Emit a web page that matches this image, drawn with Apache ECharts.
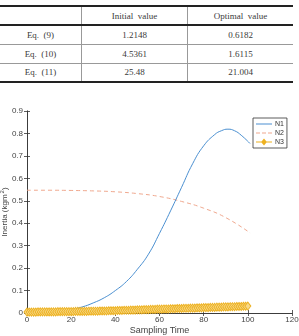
<!DOCTYPE html>
<html><head><meta charset="utf-8">
<script src="https://cdn.jsdelivr.net/npm/echarts@6/dist/echarts.min.js"></script>
<style>
html,body{margin:0;padding:0;background:#fff;}
#wrap{position:relative;width:299px;height:336px;}
#chart{position:absolute;left:0;top:0;width:299px;height:336px;}
#tbl{position:absolute;left:0;top:5px;width:293px;border-collapse:collapse;font-family:"Liberation Serif",serif;font-size:9px;color:#3a3a3a;z-index:2;background:#fff;}
#tbl td,#tbl th{text-align:center;font-weight:normal;padding:0;}
#tbl tr{height:19px;}
#tbl thead tr{border-top:2px solid #222;border-bottom:2px solid #222;}
#tbl tbody tr{border-bottom:1px solid #999;}
#tbl tbody tr:last-child{border-bottom:2px solid #222;}
#tbl td+td,#tbl th+th{border-left:1px solid #999;}
</style>
</head><body>
<div id="wrap">
<div id="chart"></div>
<table id="tbl">
<thead><tr><th style="width:81px"></th><th style="width:105px">Initial&nbsp; value</th><th>Optimal&nbsp; value</th></tr></thead>
<tbody id="tb"></tbody>
</table>
</div>
<script>
// Table data
const tableRows = ["Eq.  (9)", "Eq.  (10)", "Eq.  (11)"];
const initialValues = ["1.2148", "4.5361", "25.48"];
const optimalValues = ["0.6182", "1.6115", "21.004"];

// Chart data
const xTicks = [0, 20, 40, 60, 80, 100, 120];
const yTicks = [0, 0.1, 0.2, 0.3, 0.4, 0.5, 0.6, 0.7, 0.8, 0.9];
const n1Time = [0, 5, 10, 15, 20, 25, 30, 35, 40, 45, 50, 55, 60, 65, 70, 75, 80, 85, 88, 91, 94, 97, 101];
const n1Values = [0.003, 0.004, 0.006, 0.010, 0.016, 0.027, 0.045, 0.068, 0.100, 0.140, 0.195, 0.262, 0.355, 0.455, 0.560, 0.665, 0.745, 0.795, 0.812, 0.819, 0.812, 0.792, 0.755];
const n2Time = [0, 10, 20, 30, 40, 50, 60, 70, 80, 90, 101];
const n2Values = [0.547, 0.547, 0.546, 0.544, 0.540, 0.532, 0.519, 0.497, 0.467, 0.425, 0.357];
const n3Values = [
0.004,0.004,0.004,0.004,0.004,0.005,0.005,0.005,0.005,0.005,0.005,
0.005,0.005,0.005,0.006,0.006,0.006,0.006,0.006,0.006,0.006,
0.006,0.007,0.007,0.007,0.007,0.007,0.007,0.008,0.008,0.008,
0.008,0.008,0.009,0.009,0.009,0.009,0.010,0.010,0.010,0.010,
0.011,0.011,0.011,0.012,0.012,0.012,0.013,0.013,0.013,0.014,
0.014,0.014,0.015,0.015,0.015,0.016,0.016,0.016,0.017,0.017,
0.017,0.018,0.018,0.018,0.019,0.019,0.019,0.020,0.020,0.020,
0.021,0.021,0.021,0.022,0.022,0.022,0.023,0.023,0.023,0.024,
0.024,0.024,0.025,0.025,0.025,0.026,0.026,0.026,0.027,0.027,
0.027,0.028,0.028,0.028,0.029,0.029,0.029,0.030,0.030,0.031];

const tb = document.getElementById('tb');
tableRows.forEach((r, i) => {
  const tr = document.createElement('tr');
  [r, initialValues[i], optimalValues[i]].forEach(t => {
    const td = document.createElement('td'); td.textContent = t; td.style.whiteSpace = 'pre'; tr.appendChild(td);
  });
  tb.appendChild(tr);
});

const chart = echarts.init(document.getElementById('chart'), null, {renderer: 'canvas'});
const axisCol = '#333';
const font = 'Liberation Sans';
function baseAxis(extra) {
  return Object.assign({
    axisLine: {show: true, lineStyle: {color: axisCol, width: 0.8}},
    axisTick: {show: true, inside: true, length: 3, lineStyle: {color: axisCol, width: 0.8}},
    splitLine: {show: false},
  }, extra);
}
// legend icons (bounding box 0..16 x 0..8)
const iconSolid = 'path://M0,0L0,0M16,8L16,8M0,3.5L16,3.5L16,4.5L0,4.5Z';
const iconDash = 'path://M0,0L0,0M16,8L16,8M0,3.5L4,3.5L4,4.5L0,4.5ZM6,3.5L10,3.5L10,4.5L6,4.5ZM12,3.5L16,3.5L16,4.5L12,4.5Z';
const iconDiamond = 'path://M0,0L0,0M16,8L16,8M0,3.6L5.5,3.6L8,0.5L10.5,3.6L16,3.6L16,4.4L10.5,4.4L8,7.5L5.5,4.4L0,4.4Z';
const colN1 = '#4a8fd0', colN2 = '#f0a88e', colN3 = '#EDB120';
chart.setOption({
  animation: false,
  backgroundColor: '#fff',
  grid: {left: 27, right: 7, top: 111, bottom: 23, outerBoundsMode: 'none', containLabel: false},
  legend: {
    orient: 'vertical', left: 253, top: 118,
    data: [
      {name: 'N1', icon: iconSolid, itemStyle: {color: colN1, borderWidth: 0}},
      {name: 'N2', icon: iconDash, itemStyle: {color: colN2, borderWidth: 0}},
      {name: 'N3', icon: iconDiamond, itemStyle: {color: colN3, borderWidth: 0}}
    ],
    itemWidth: 16, itemHeight: 8, itemGap: 1,
    padding: [2, 3, 2, 3],
    borderColor: '#333', borderWidth: 0.8, backgroundColor: '#fff',
    textStyle: {fontSize: 7, fontFamily: font, color: '#333', padding: [0,0,0,-2]}
  },
  xAxis: [
    baseAxis({type: 'value', min: 0, max: 120, interval: 20, position: 'bottom',
      name: 'Sampling Time', nameLocation: 'middle', nameGap: 13, nameMoveOverlap: false,
      nameTextStyle: {fontSize: 9, fontFamily: font, color: '#444', verticalAlign: 'top'},
      axisLabel: {fontSize: 8, fontFamily: font, color: '#444', margin: 3,
        customValues: xTicks}}),
    baseAxis({type: 'value', min: 0, max: 120, interval: 20, position: 'top', axisLabel: {show: false}})
  ],
  yAxis: [
    baseAxis({type: 'value', min: 0, max: 0.9, interval: 0.1, position: 'left',
      name: 'Inertia (kgm{sup|2})', nameLocation: 'middle', nameGap: 16, nameMoveOverlap: false,
      nameTextStyle: {fontSize: 8, fontFamily: font, color: '#444',
        rich: {sup: {fontSize: 6, fontFamily: font, color: '#444', verticalAlign: 'bottom', padding: [0,0,6,1]}}},
      axisLabel: {fontSize: 8, fontFamily: font, color: '#444', margin: 4,
        formatter: v => { const t = yTicks.find(y => Math.abs(y - v) < 1e-9); return t === undefined ? '' : String(t); }}}),
    baseAxis({type: 'value', min: 0, max: 0.9, interval: 0.1, position: 'right', axisLabel: {show: false}})
  ],
  series: [
    {name: 'N1', type: 'line', smooth: true, symbol: 'none', z: 3,
      data: n1Time.map((t, i) => [t, n1Values[i]]),
      lineStyle: {color: colN1, width: 1}, itemStyle: {color: colN1}},
    {name: 'N2', type: 'line', smooth: true, symbol: 'none', z: 2,
      data: n2Time.map((t, i) => [t, n2Values[i]]),
      lineStyle: {color: colN2, width: 1, type: [4, 3]}, itemStyle: {color: colN2}},
    {name: 'N3', type: 'line', symbol: 'diamond', symbolSize: [6, 8], z: 4,
      data: n3Values.map((v, i) => [i, v]),
      lineStyle: {color: colN3, width: 1},
      itemStyle: {color: '#f7d98a', borderColor: colN3, borderWidth: 1}}
  ]
});
</script>
</body></html>
